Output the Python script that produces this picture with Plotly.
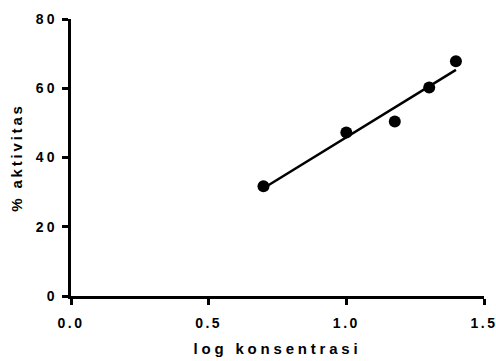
import numpy as np
import plotly.graph_objects as go

log_konsentrasi = [0.699, 1.0, 1.176, 1.301, 1.398]
aktivitas = [31.7, 47.2, 50.4, 60.2, 67.8]
x_ticks = [0.0, 0.5, 1.0, 1.5]
x_ticklabels = ["0.0", "0.5", "1.0", "1.5"]
y_ticks = [0, 20, 40, 60, 80]

slope, intercept = np.polyfit(log_konsentrasi, aktivitas, 1)
fit_x = [min(log_konsentrasi), max(log_konsentrasi)]
fit_y = [slope * v + intercept for v in fit_x]

FAM = "Liberation Sans, Arial, sans-serif"

fig = go.Figure()
fig.add_trace(go.Scatter(x=fit_x, y=fit_y, mode="lines",
                         line=dict(color="black", width=2.5), showlegend=False))
fig.add_trace(go.Scatter(x=log_konsentrasi, y=aktivitas, mode="markers",
                         marker=dict(color="black", size=12), showlegend=False))

fig.update_layout(
    width=496, height=361,
    margin=dict(l=71, r=12, t=19, b=65),
    paper_bgcolor="white", plot_bgcolor="white",
    font=dict(family=FAM, size=14, color="black"),
)
axis_common = dict(
    showgrid=False, zeroline=False, showline=True, linecolor="black", linewidth=2.5,
    ticks="outside", ticklen=6, tickwidth=2.5, tickcolor="black",
    tickfont=dict(family=FAM, size=14, color="black", weight="bold"),
    automargin=False,
)
fig.update_xaxes(
    range=[0, 1.5], tickvals=x_ticks, ticktext=x_ticklabels,
    ticklabelstandoff=6,
    title=dict(text="<b>log konsentrasi</b>", font=dict(family=FAM, size=15), standoff=14),
    **axis_common,
)
fig.update_yaxes(
    range=[0, 80], tickvals=y_ticks,
    ticklabelstandoff=2,
    title=dict(text="<b>% aktivitas</b>", font=dict(family=FAM, size=15), standoff=16),
    **axis_common,
)

post = """
var gd = document.getElementsByClassName('plotly-graph-div')[0];
gd.querySelectorAll('.xtick text').forEach(function(t){t.style.letterSpacing='2.5px';});
gd.querySelectorAll('.ytick text').forEach(function(t){t.style.letterSpacing='3px';});
gd.querySelectorAll('.g-xtitle text').forEach(function(t){t.style.letterSpacing='3.8px';});
gd.querySelectorAll('.g-ytitle text').forEach(function(t){t.style.letterSpacing='2.8px';});
"""
fig.write_html("out.html", post_script=post)
